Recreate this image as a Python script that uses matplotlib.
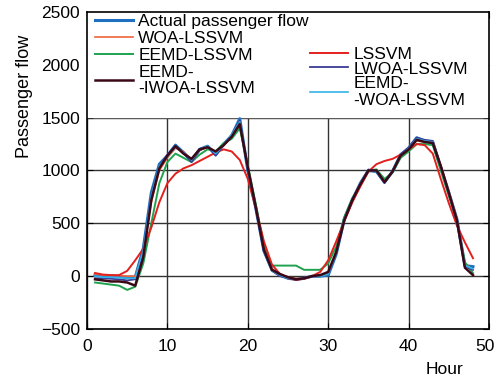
"""Hourly passenger flow: actual vs. six LSSVM-based forecasts (48 h)."""
import matplotlib
matplotlib.use("Agg")
import matplotlib.pyplot as plt
import matplotlib.transforms as mtransforms
import numpy as np

plt.rcParams["font.family"] = ["Liberation Sans", "DejaVu Sans"]

hours = np.arange(1, 49)

actual = [10, 0, 0, -5, -10, -10, 260, 790, 1060, 1140, 1240, 1170, 1090, 1200,
          1230, 1150, 1250, 1330, 1490, 1000, 640, 240, 60, 10, -20, -30, -20, 0,
          0, 10, 210, 540, 720, 880, 1000, 990, 890, 990, 1150, 1210, 1310, 1280,
          1270, 1030, 790, 540, 100, 90]
woa_lssvm = [20, 10, 5, 5, 0, 0, 220, 700, 1000, 1120, 1210, 1180, 1100, 1190,
             1220, 1170, 1240, 1310, 1420, 1030, 660, 270, 70, 20, -10, -20, -20, 0,
             5, 20, 230, 550, 730, 880, 990, 1000, 900, 990, 1140, 1200, 1280, 1270,
             1260, 1050, 800, 540, 120, 60]
eemd_lssvm = [-60, -70, -80, -90, -130, -100, 120, 500, 880, 1080, 1160, 1120, 1080, 1150,
              1200, 1180, 1260, 1300, 1400, 1050, 680, 300, 100, 100, 100, 100, 60, 60,
              60, 120, 280, 560, 740, 860, 1000, 1010, 920, 980, 1120, 1180, 1250, 1250,
              1240, 1000, 760, 520, 130, 30]
eemd_iwoa_lssvm = [-30, -40, -50, -50, -60, -90, 180, 720, 1020, 1140, 1230, 1160, 1110, 1200,
                   1220, 1180, 1240, 1320, 1440, 1030, 650, 250, 60, 20, -10, -30, -20, 0,
                   10, 40, 230, 530, 720, 870, 1000, 1000, 890, 990, 1140, 1200, 1290, 1270,
                   1260, 1040, 790, 530, 80, 10]
lssvm = [30, 15, 10, 10, 50, 150, 260, 460, 700, 880, 970, 1020, 1050, 1090,
         1130, 1170, 1200, 1180, 1100, 920, 640, 330, 110, 20, -20, -35, -25, 0,
         40, 150, 330, 520, 700, 850, 990, 1060, 1090, 1110, 1150, 1200, 1250, 1240,
         1160, 920, 690, 480, 320, 170]
lwoa_lssvm = [-20, -20, -25, -30, -40, -30, 230, 770, 1040, 1150, 1230, 1170, 1080, 1190,
              1230, 1140, 1240, 1340, 1470, 1010, 640, 240, 50, 0, -20, -30, -20, 0,
              10, 20, 220, 540, 730, 880, 1010, 990, 880, 1000, 1150, 1220, 1310, 1290,
              1280, 1040, 780, 520, 90, 60]
eemd_woa_lssvm = [0, -10, -10, -15, -20, -20, 240, 760, 1040, 1130, 1220, 1170, 1100, 1200,
                  1230, 1160, 1240, 1340, 1460, 1020, 650, 240, 50, 10, -20, -25, -20, 0,
                  0, 20, 220, 540, 720, 880, 1000, 990, 890, 990, 1140, 1210, 1300, 1280,
                  1270, 1030, 790, 530, 100, 70]

FS = 12.5

fig = plt.figure(figsize=(4.97, 3.81), dpi=100)
ax = fig.add_axes([0.175, 0.1365, 0.809, 0.832])

h_act, = ax.plot(hours, actual, color="#1f6fc0", lw=2.2, label="Actual passenger flow")
h_woa, = ax.plot(hours, woa_lssvm, color="#f0643c", lw=1.2, label="WOA-LSSVM")
h_eemd, = ax.plot(hours, eemd_lssvm, color="#1fa24f", lw=1.4, label="EEMD-LSSVM")
h_ls, = ax.plot(hours, lssvm, color="#e3201e", lw=1.4, label="LSSVM")
h_lwoa, = ax.plot(hours, lwoa_lssvm, color="#3c3c96", lw=1.3, label="LWOA-LSSVM")
h_ew, = ax.plot(hours, eemd_woa_lssvm, color="#35b4ea", lw=1.2, label="EEMD-\n-WOA-LSSVM")
h_ei, = ax.plot(hours, eemd_iwoa_lssvm, color="#3a0816", lw=1.8, label="EEMD-\n-IWOA-LSSVM")

ax.set_xlim(0, 50)
ax.set_ylim(-500, 2500)
ax.set_xticks(np.arange(0, 51, 10))
ax.set_yticks(np.arange(-500, 2501, 500))
ax.tick_params(direction="in", top=True, right=True, length=4, labelsize=FS)
ax.tick_params(axis="x", pad=7)
ax.tick_params(axis="y", pad=5)
ax.grid(True, color="#333333", lw=1.0)
ax.set_axisbelow(True)
# legend area covers the grid in the upper part
ax.axhspan(1510, 2500, color="white", zorder=1)
for s in ax.spines.values():
    s.set_linewidth(1.2)

# nudge the last x tick label so "50" stays inside the canvas
last = ax.get_xticklabels()[-1]
last.set_transform(last.get_transform() + mtransforms.ScaledTranslation(-3 / 72, 0, fig.dpi_scale_trans))

ax.set_ylabel("Passenger flow", fontsize=13)
ax.yaxis.set_label_coords(-0.135, 0.735)
ax.set_xlabel("Hour", fontsize=FS)
ax.xaxis.set_label_coords(0.89, -0.105)

leg_kw = dict(frameon=False, fontsize=FS, handlelength=2.2, handletextpad=0.3,
              borderpad=0, borderaxespad=0)
leg1 = ax.legend(handles=[h_act, h_woa, h_eemd, h_ei], loc="upper left",
                 bbox_to_anchor=(0.02, 0.994), labelspacing=0.1, **leg_kw)
for t in leg1.get_texts():
    t.set_linespacing(1.15)
ax.add_artist(leg1)
leg2 = ax.legend(handles=[h_ls, h_lwoa, h_ew], loc="upper left",
                 bbox_to_anchor=(0.555, 0.891), labelspacing=-0.02, **leg_kw)
for t in leg2.get_texts():
    t.set_linespacing(1.15)

fig.savefig("out.png", dpi=100)
